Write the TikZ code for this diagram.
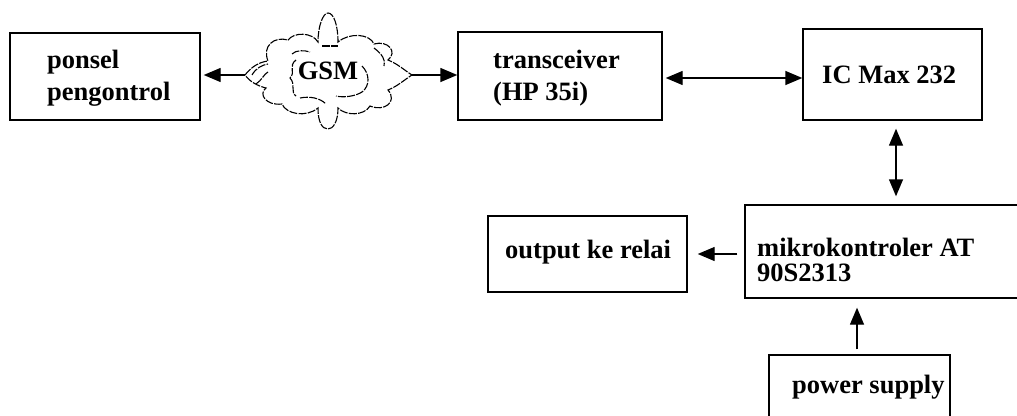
\documentclass[tikz,border=0pt]{standalone}
\usepackage{fontspec}
\setmainfont{Liberation Serif}
\usetikzlibrary{arrows.meta,calc}
\begin{document}
\begin{tikzpicture}[x=1pt,y=-1pt,
  box/.style={draw,line width=1.4pt,inner sep=0pt},
  lbl/.style={inner sep=0pt,align=left,font=\fontsize{26.5}{32}\selectfont\bfseries},
  tip/.style={-{Triangle[length=17pt,width=14pt]}},
  dtip/.style={{Triangle[length=17pt,width=14pt]}-{Triangle[length=17pt,width=14pt]}},
  link/.style={line width=1.4pt},
  cloudline/.style={line width=1.1pt,dash pattern=on 8pt off 1.3pt}]
\useasboundingbox (0,0) rectangle (1017,415);
\clip (0,0) rectangle (1017,415);
\fill[white] (0,0) rectangle (1017,415);
% boxes
\node[box,minimum width=190pt,minimum height=87pt] (ponsel) at (105,76.5) {};
\node[box,minimum width=204pt,minimum height=88pt] (trans) at (560,76) {};
\node[box,minimum width=179pt,minimum height=91pt] (ic) at (892.5,74.5) {};
\node[box,minimum width=295pt,minimum height=93pt] (mikro) at (892.5,251.5) {};
\node[box,minimum width=199pt,minimum height=76pt] (out) at (587.5,254) {};
\node[box,minimum width=181pt,minimum height=90pt] (power) at (859.5,400) {};
% labels
\node[lbl,anchor=west] (ponselt) at (47,78) {ponsel\\pengontrol};
\node[lbl,anchor=west] (transt) at (493,78) {transceiver\\(HP 35i)};
\node[lbl,anchor=base west] (ict) at (822,83) {IC Max 232};
\node[lbl,anchor=west,font=\fontsize{26.5}{25}\selectfont\bfseries] (mikrot) at (757,260) {mikrokontroler AT\\90S2313};
\node[lbl,anchor=base west] (outt) at (505,258) {output ke relai};
\node[lbl,anchor=base west] (powert) at (792,393) {power supply};
% cloud
\coordinate (gsmW) at (245,75);
\coordinate (gsmE) at (412,75);
\draw[cloudline] (gsmW)
  .. controls (252,66) and (260,62) .. (268,61)
  .. controls (262,46) and (274,36) .. (288,40)
  .. controls (294,32) and (312,32) .. (318,42)
  .. controls (318,26) and (323,13) .. (328,13)
  .. controls (334,13) and (338,26) .. (338,42)
  .. controls (350,32) and (370,34) .. (374,44)
  .. controls (388,40) and (398,52) .. (388,60)
  .. controls (398,64) and (404,70) .. (gsmE)
  .. controls (404,80) and (398,86) .. (388,90)
  .. controls (398,102) and (384,112) .. (370,106)
  .. controls (364,116) and (346,116) .. (338,108)
  .. controls (338,122) and (333,129) .. (328,129)
  .. controls (322,129) and (318,122) .. (318,108)
  .. controls (306,118) and (286,114) .. (282,104)
  .. controls (266,106) and (258,94) .. (266,88)
  .. controls (258,86) and (250,82) .. (gsmW);
\draw[cloudline] (252,75) .. controls (256,68) and (262,65) .. (268,64);
\draw[cloudline] (256,84) .. controls (262,80) and (264,74) .. (268,72);
\draw[cloudline] (292,54) .. controls (296,50) and (304,50) .. (310,52);
\draw[cloudline] (322,46) -- (338,46);
\draw[cloudline] (296,60) .. controls (288,66) and (296,72) .. (290,78) .. controls (296,84) and (290,92) .. (296,96);
\draw[cloudline] (362,66) .. controls (370,74) and (370,86) .. (362,92) .. controls (356,96) and (344,98) .. (336,96);
\draw[cloudline] (300,98) .. controls (310,96) and (320,98) .. (326,104);
\draw[cloudline] (374,48) .. controls (382,54) and (386,60) .. (384,66);
\node[lbl,inner sep=0pt] (gsm) at (328,71) {GSM};
% connectors
\coordinate (ta) at ($(trans.east)+(3,2)$);
\coordinate (ms) at ($(mikro.south)+(-35.5,9)$);
\draw[link,tip] (gsmW) -- ($(ponsel.east)+(3,-1.5)$);
\draw[link,tip] (gsmE) -- ($(trans.west)+(0,-1)$);
\draw[link,dtip] (ta) -- (ta -| ic.west);
\draw[link,dtip] ($(ic.south)+(3.5,8)$) -- ($(mikro.north)+(3.5,-8)$);
\draw[link,tip] ($(mikro.west)+(-7,2.5)$) -- ($(out.east)+(10,0)$);
\draw[link,tip] (ms |- power.north) ++(0,-5) -- (ms);
\end{tikzpicture}
\end{document}
